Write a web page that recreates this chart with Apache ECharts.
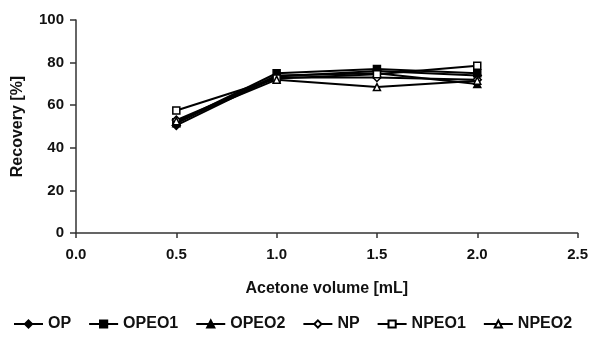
<!DOCTYPE html>
<html><head><meta charset="utf-8">
<script src="https://cdn.jsdelivr.net/npm/echarts@6/dist/echarts.min.js"></script>
<style>html,body{margin:0;padding:0;background:#fff}#c{width:591px;height:339px}</style>
</head><body><div id="c"></div>
<script>
var volumes = [0.5, 1.0, 1.5, 2.0];
var OP    = [50.5, 73.5, 76.0, 74.0];
var OPEO1 = [52.0, 75.0, 77.0, 75.0];
var OPEO2 = [51.5, 74.0, 75.0, 70.0];
var NP    = [53.0, 73.0, 73.0, 72.0];
var NPEO1 = [57.5, 72.5, 74.5, 78.5];
var NPEO2 = [52.5, 72.0, 68.5, 71.5];
var yTicks = [0, 20, 40, 60, 80, 100];
var xTicks = [0.0, 0.5, 1.0, 1.5, 2.0, 2.5];

function pts(v){ return volumes.map(function(x,i){ return [x, v[i]]; }); }
var defs = [
  ['OP', OP, 'diamond', true],
  ['OPEO1', OPEO1, 'rect', true],
  ['OPEO2', OPEO2, 'triangle', true],
  ['NP', NP, 'diamond', false],
  ['NPEO1', NPEO1, 'rect', false],
  ['NPEO2', NPEO2, 'triangle', false]
];
var series = defs.map(function(d){
  return {
    name: d[0], type: 'line', data: pts(d[1]),
    symbol: d[2], symbolSize: d[2]==='diamond' ? 8 : 7,
    lineStyle: {color: '#000', width: 2},
    itemStyle: {color: d[3] ? '#000' : '#fff', borderColor: '#000', borderWidth: 1.5},
    emphasis: {disabled: true}, animation: false
  };
});
var font = 'Liberation Sans, Arial, sans-serif';
var chart = echarts.init(document.getElementById('c'));
chart.setOption({
  animation: false,
  grid: {left: 76, right: 13, top: 20, bottom: 106},
  xAxis: {
    type: 'value', min: xTicks[0], max: xTicks[xTicks.length-1], interval: 0.5,
    name: 'Acetone volume [mL]', nameLocation: 'middle', nameGap: 48,
    nameTextStyle: {fontFamily: font, fontWeight: 'bold', fontSize: 16, color: '#111'},
    axisLine: {lineStyle: {color: '#333', width: 1.5}},
    axisTick: {show: true, length: 5, lineStyle: {color: '#333', width: 1.5}},
    axisLabel: {fontFamily: font, fontWeight: 'bold', fontSize: 15, color: '#111', margin: 14,
      formatter: function(v){ return v.toFixed(1); }},
    splitLine: {show: false}
  },
  yAxis: {
    type: 'value', min: yTicks[0], max: yTicks[yTicks.length-1], interval: 20,
    name: 'Recovery [%]', nameLocation: 'middle', nameGap: 50, nameRotate: 90,
    nameTextStyle: {fontFamily: font, fontWeight: 'bold', fontSize: 16, color: '#111'},
    axisLine: {show: true, lineStyle: {color: '#333', width: 1.5}},
    axisTick: {show: true, length: 6, lineStyle: {color: '#333', width: 1.5}},
    axisLabel: {fontFamily: font, fontWeight: 'bold', fontSize: 15, color: '#111', margin: 12},
    splitLine: {show: false}
  },
  legend: {
    bottom: 2, left: 8, itemWidth: 29, itemHeight: 9, itemGap: 17,
    textStyle: {fontFamily: font, fontWeight: 'bold', fontSize: 16, color: '#111'},
    data: defs.map(function(d){ return d[0]; })
  },
  series: series
});
</script></body></html>
